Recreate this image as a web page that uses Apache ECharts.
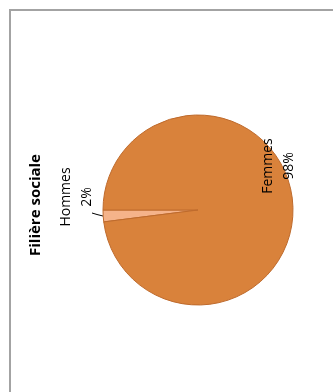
<!DOCTYPE html>
<html><head><meta charset="utf-8">
<script src="https://cdn.jsdelivr.net/npm/echarts@6/dist/echarts.min.js"></script>
<style>html,body{margin:0;padding:0;background:#fff}#c{width:333px;height:392px}</style>
</head><body><div id="c"></div>
<script>
const title = "Filière sociale";
const categories = ["Hommes", "Femmes"];
const values = [2, 98];
const colors = ["#F5B38A", "#D9823B"];

const chart = echarts.init(document.getElementById('c'), null, {renderer: 'canvas'});
const labelPos = {Hommes: [77, 197], Femmes: [279, 166]};
chart.setOption({
  animation: false,
  graphic: [
    {type: 'rect', shape: {x: 10, y: 10, width: 400, height: 450},
     style: {fill: 'none', stroke: '#A3A3A3', lineWidth: 2}},
    {type: 'text', x: 35.5, y: 205, rotation: Math.PI / 2,
     style: {text: title, font: 'bold 15px "Open Sans"', fill: '#000',
             align: 'center', verticalAlign: 'middle'}}
  ],
  series: [{
    type: 'pie',
    center: [198, 210],
    radius: [0, 95],
    startAngle: 180,
    clockwise: false,
    data: categories.map((c, i) => ({name: c, value: values[i],
      itemStyle: {color: colors[i]},
      labelLine: {show: i === 0}})),
    itemStyle: {borderColor: '#BE6A2C', borderWidth: 1},
    label: {
      show: true,
      formatter: p => p.name + '\n' + p.value + '%',
      fontFamily: 'Open Sans', fontSize: 14, color: '#000',
      lineHeight: 21, rotate: 90, align: 'center'
    },
    labelLine: {lineStyle: {color: '#000', width: 1}},
    labelLayout: function (p) {
      const pos = labelPos[p.text.split('\n')[0]] || [0, 0];
      const out = {x: pos[0], y: pos[1], rotate: 90, align: 'center', verticalAlign: 'middle'};
      if (p.dataIndex === 0) out.labelLinePoints = [[103, 216], [97, 214.5], [92, 213]];
      return out;
    }
  }]
});
</script></body></html>
